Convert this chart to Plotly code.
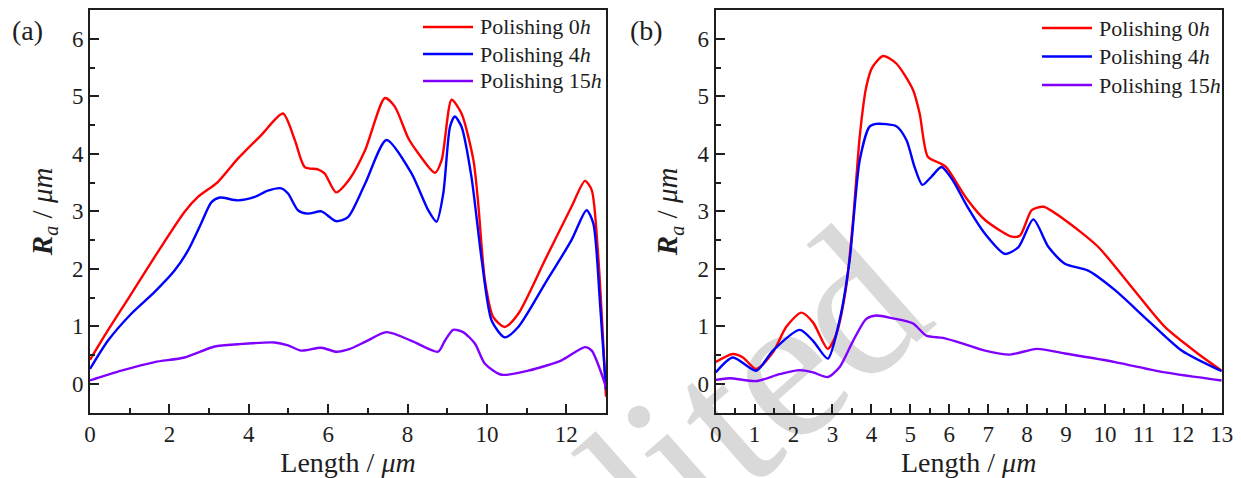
import plotly.graph_objects as go

# ---- panel (a): Ra profiles along the length ----
a_len_0h = [0, 0.45, 0.96, 1.63, 2.38, 2.72, 3.22, 3.73, 4.32, 4.86, 5.16, 5.41, 5.74,
            5.91, 6.2, 6.55, 6.93, 7.43, 7.68, 8.02, 8.27, 8.69, 8.86, 9.11, 9.36, 9.66,
            9.78, 9.95, 10.16, 10.45, 10.79, 11.46, 12.13, 12.47, 12.64, 12.8, 13.0]
a_ra_0h = [0.42, 0.93, 1.48, 2.21, 2.99, 3.25, 3.51, 3.92, 4.33, 4.70, 4.24, 3.77, 3.73,
           3.66, 3.33, 3.57, 4.06, 4.97, 4.82, 4.27, 4.01, 3.67, 3.89, 4.94, 4.70, 3.89,
           3.14, 1.80, 1.16, 0.99, 1.22, 2.15, 3.08, 3.53, 3.37, 2.26, -0.22]

a_len_4h = [0, 0.45, 1.04, 1.63, 2.13, 2.47, 2.8, 3.06, 3.27, 3.73, 4.15, 4.48, 4.82, 4.99,
            5.24, 5.49, 5.83, 6.2, 6.5, 6.93, 7.47, 8.1, 8.52, 8.73, 8.9, 9.07, 9.19, 9.36,
            9.61, 9.87, 10.12, 10.45, 10.79, 11.46, 12.13, 12.51, 12.68, 12.85, 13.0]
a_ra_4h = [0.26, 0.75, 1.22, 1.60, 1.97, 2.32, 2.79, 3.16, 3.24, 3.19, 3.25, 3.36, 3.40, 3.31,
           3.02, 2.96, 3.00, 2.83, 2.90, 3.48, 4.24, 3.66, 3.02, 2.82, 3.31, 4.47, 4.65, 4.47,
           3.60, 2.15, 1.10, 0.81, 0.99, 1.74, 2.50, 3.02, 2.79, 1.39, -0.10]

a_len_15h = [0, 0.79, 1.63, 2.38, 3.14, 3.73, 4.65, 4.99, 5.32, 5.83, 6.2, 6.55, 6.93, 7.47,
             8.1, 8.77, 8.94, 9.15, 9.4, 9.7, 9.95, 10.37, 11.04, 11.88, 12.47, 12.64, 13.0]
a_ra_15h = [0.06, 0.23, 0.38, 0.46, 0.65, 0.69, 0.72, 0.67, 0.58, 0.63, 0.56, 0.61, 0.73, 0.90,
            0.75, 0.56, 0.75, 0.94, 0.90, 0.70, 0.35, 0.16, 0.23, 0.41, 0.64, 0.58, -0.05]

# ---- panel (b) ----
b_len_0h = [0, 0.44, 0.7, 1.04, 1.47, 1.81, 2.2, 2.5, 2.88, 3.1, 3.35, 3.53, 3.7, 3.87, 4.02,
            4.3, 4.64, 5.07, 5.24, 5.45, 5.75, 5.92, 6.45, 6.92, 7.61, 7.82, 8.12, 8.42, 8.97,
            9.83, 10.69, 11.54, 12.4, 13.0]
b_ra_0h = [0.38, 0.52, 0.46, 0.26, 0.55, 0.99, 1.24, 1.07, 0.61, 0.87, 1.68, 2.85, 4.30, 5.17,
           5.50, 5.70, 5.57, 5.11, 4.70, 3.95, 3.84, 3.77, 3.22, 2.85, 2.56, 2.58, 3.02, 3.08,
           2.85, 2.38, 1.68, 0.99, 0.52, 0.23]

b_len_4h = [0, 0.44, 1.04, 1.47, 2.16, 2.5, 2.88, 3.18, 3.44, 3.7, 3.95, 4.12, 4.64, 4.9,
            5.11, 5.31, 5.54, 5.8, 6.09, 6.45, 6.92, 7.43, 7.78, 8.16, 8.55, 8.97, 9.57,
            10.26, 11.11, 11.97, 13.0]
b_ra_4h = [0.20, 0.46, 0.23, 0.58, 0.94, 0.75, 0.44, 1.10, 2.15, 3.89, 4.47, 4.52, 4.48, 4.24,
           3.77, 3.46, 3.60, 3.77, 3.54, 3.10, 2.61, 2.26, 2.38, 2.86, 2.38, 2.09, 1.97,
           1.63, 1.10, 0.58, 0.22]

b_len_15h = [0, 0.36, 1.04, 1.64, 2.16, 2.5, 2.88, 3.18, 3.53, 3.87, 4.12, 4.55, 5.07, 5.41,
             5.84, 6.45, 6.92, 7.56, 8.25, 8.97, 10.26, 11.54, 13.0]
b_ra_15h = [0.07, 0.10, 0.05, 0.17, 0.24, 0.20, 0.12, 0.29, 0.75, 1.13, 1.19, 1.14, 1.05, 0.84,
            0.80, 0.68, 0.58, 0.51, 0.61, 0.53, 0.38, 0.20, 0.06]

series_names = ["Polishing 0<i>h</i>", "Polishing 4<i>h</i>", "Polishing 15<i>h</i>"]
series_colors = ["#ff0000", "#0000ff", "#8000ff"]
y_ticks = [0, 1, 2, 3, 4, 5, 6]
a_x_ticks = [0, 2, 4, 6, 8, 10, 12]
b_x_ticks = list(range(0, 14))

SERIF = "Liberation Serif, Times New Roman, serif"
INK = "#1e1e1e"
W, H = 1241, 478


def px_x(p):
    return p / W


def px_y(p):
    return (H - p) / H


fig = go.Figure()

panels = [
    ("x", "y", [(a_len_0h, a_ra_0h), (a_len_4h, a_ra_4h), (a_len_15h, a_ra_15h)]),
    ("x2", "y2", [(b_len_0h, b_ra_0h), (b_len_4h, b_ra_4h), (b_len_15h, b_ra_15h)]),
]
for xa, ya, data in panels:
    for (xs, ys), name, color in zip(data, series_names, series_colors):
        fig.add_trace(go.Scatter(
            x=xs, y=ys, mode="lines", name=name, showlegend=False,
            line=dict(color=color, width=2.4, shape="spline", smoothing=0.7),
            xaxis=xa, yaxis=ya,
        ))

a_dom = [px_x(90), px_x(606)]
b_dom = [px_x(715.7), px_x(1221.7)]
y_dom = [px_y(412.7), px_y(10)]

axis_common = dict(
    showline=True, linewidth=2, linecolor=INK, mirror=True,
    ticks="inside", ticklen=9, tickwidth=2, tickcolor=INK,
    showgrid=False, zeroline=False, automargin=False,
    tickfont=dict(family=SERIF, size=23, color=INK),
)
minor_common = dict(ticks="inside", ticklen=5, tickwidth=2, tickcolor=INK)
xtitle = dict(text="Length / <i>μm</i>", font=dict(family=SERIF, size=28, color=INK), standoff=1)
ytitle = dict(text="<b><i>R</i></b><sub><i>a</i></sub> / <i>μm</i>",
              font=dict(family=SERIF, size=29, color=INK), standoff=11)

fig.update_layout(
    width=W, height=H,
    margin=dict(l=0, r=0, t=0, b=0),
    paper_bgcolor="white", plot_bgcolor="rgba(0,0,0,0)",
    showlegend=False,
    xaxis=dict(domain=a_dom, range=[0, 13], tickvals=a_x_ticks, anchor="y", title=xtitle,
               minor=dict(dtick=1, **minor_common), **axis_common),
    yaxis=dict(domain=y_dom, range=[-0.5, 6.5], tickvals=y_ticks, anchor="x", title=ytitle,
               minor=dict(dtick=0.5, **minor_common), **axis_common),
    xaxis2=dict(domain=b_dom, range=[0, 13], tickvals=b_x_ticks, anchor="y2", title=xtitle,
                minor=dict(dtick=0.5, **minor_common), **axis_common),
    yaxis2=dict(domain=y_dom, range=[-0.5, 6.5], tickvals=y_ticks, anchor="x2", title=ytitle,
                minor=dict(dtick=0.5, **minor_common), **axis_common),
)

# in-panel legends: a short line key followed by the series name
legend_specs = [
    (423, 473, 478, 27, 27.0),     # panel (a): key start, key end, text x, first row y, row step
    (1042, 1092, 1097, 28, 28.5),  # panel (b)
]
for k0, k1, tx, row0, step in legend_specs:
    for i, (name, color) in enumerate(zip(series_names, series_colors)):
        yy = row0 + step * i
        fig.add_shape(type="line", xref="paper", yref="paper",
                      x0=px_x(k0), x1=px_x(k1), y0=px_y(yy), y1=px_y(yy),
                      line=dict(color=color, width=2.4))
        fig.add_annotation(text=name, x=px_x(tx), y=px_y(yy), xref="paper", yref="paper",
                           showarrow=False, xanchor="left", yanchor="middle",
                           font=dict(family=SERIF, size=22, color=INK))

# panel letters
for label, px in (("(a)", 27), ("(b)", 646)):
    fig.add_annotation(text=label, x=px_x(px), y=px_y(30), xref="paper", yref="paper",
                       showarrow=False, xanchor="center", yanchor="middle",
                       font=dict(family=SERIF, size=28, color=INK))

# faint diagonal watermark, kept underneath the curves
fig.add_shape(
    type="line", xref="paper", yref="paper",
    x0=0.521, y0=0.093, x1=0.561, y1=0.093,
    line=dict(width=0, color="rgba(0,0,0,0)"), layer="below",
    label=dict(text="Edited", textangle=-41.5, textposition="middle",
               xanchor="center", yanchor="middle",
               font=dict(family=SERIF, size=210, color="#d9d9d9")),
)

fig.write_html("out.html")
